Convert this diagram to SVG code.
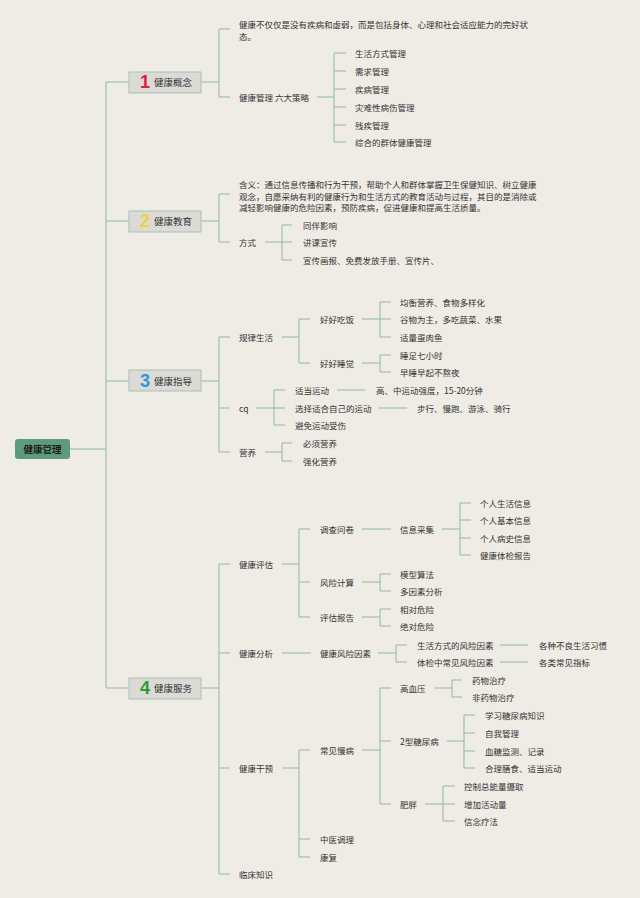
<svg xmlns="http://www.w3.org/2000/svg" width="640" height="898" viewBox="0 0 640 898">
<style>
.t{font-family:"Noto Sans CJK SC","Noto Sans",sans-serif;font-size:8.5px;fill:#333;dominant-baseline:central}
.h{font-family:"Noto Sans CJK SC","Noto Sans",sans-serif;font-size:9.5px;fill:#333;dominant-baseline:central}
.n{font-family:"Liberation Sans",sans-serif;font-size:18px;font-weight:bold;text-anchor:middle;dominant-baseline:central}
.box{fill:#DCDAD6;stroke:#A7C3B3;stroke-width:1}
.c{fill:none;stroke:#8DBBA2;stroke-width:1}
</style>
<rect width="640" height="898" fill="#EFEBE5"/>
<g id="connectors" class="c">
<path d="M70 449H106M106 82V688M106 82H129M106 221H129M106 381H129M106 688H129"/>
<path d="M201 82H219M219 29V97M219 29H230M219 97H230"/>
<path d="M317 97H334M334 53V142M334 53H346M334 71H346M334 89H346M334 107H346M334 125H346M334 142H346"/>
<path d="M201 221H219M219 194V242M219 194H230M219 242H230"/>
<path d="M265 242H282M282 225V260M282 225H292M282 242H292M282 260H292"/>
<path d="M201 381H219M219 337V452M219 337H230M219 408H230M219 452H230"/>
<path d="M282 337H299M299 319V363M299 319H310M299 363H310"/>
<path d="M362 319H380M380 302V337M380 302H391M380 319H391M380 337H391"/>
<path d="M362 363H380M380 355V372M380 355H391M380 372H391"/>
<path d="M256 408H274M274 390V425M274 390H285M274 408H285M274 425H285"/>
<path d="M337 390H365M378 408H407"/>
<path d="M265 452H282M282 443V461M282 443H292M282 461H292"/>
<path d="M201 688H219M219 564V874M219 564H230M219 653H230M219 768H230M219 874H230"/>
<path d="M282 564H299M299 529V617M299 529H310M299 582H310M299 617H310"/>
<path d="M362 529H391"/>
<path d="M442 529H460M460 503V555M460 503H471M460 520H471M460 538H471M460 555H471"/>
<path d="M362 582H380M380 574V591M380 574H391M380 591H391"/>
<path d="M362 617H380M380 609V626M380 609H391M380 626H391"/>
<path d="M282 653H311"/>
<path d="M378 653H396M396 645V662M396 645H407M396 662H407"/>
<path d="M500 645H528M500 662H528"/>
<path d="M282 768H299M299 750V857M299 750H310M299 839H310M299 857H310"/>
<path d="M362 750H380M380 688V804M380 688H391M380 741H391M380 804H391"/>
<path d="M434 688H452M452 680V697M452 680H462M452 697H462"/>
<path d="M447 741H464M464 715V768M464 715H475M464 733H475M464 751H475M464 768H475"/>
<path d="M425 804H443M443 786V821M443 786H455M443 804H455M443 821H455"/>
</g>
<g id="root">
<rect x="15" y="439" width="55" height="20" rx="3" fill="#5C9C7C"/>
<text x="42.5" y="449" class="h" style="font-weight:bold;fill:#1a1a1a;text-anchor:middle">健康管理</text>
</g>
<g id="n1"><rect x="129" y="72" width="72" height="21" class="box"/><text x="145" y="82" class="n" fill="#E0203A">1</text><text x="154" y="82" class="h">健康概念</text></g>
<g id="n2"><rect x="129" y="211" width="72" height="21" class="box"/><text x="145" y="221" class="n" fill="#EED43A">2</text><text x="154" y="221" class="h">健康教育</text></g>
<g id="n3"><rect x="129" y="370" width="72" height="21" class="box"/><text x="145" y="381" class="n" fill="#2A9AD8">3</text><text x="154" y="381" class="h">健康指导</text></g>
<g id="n4"><rect x="129" y="678" width="72" height="21" class="box"/><text x="145" y="688" class="n" fill="#2E9A3A">4</text><text x="154" y="688" class="h">健康服务</text></g>

<g id="def"><text x="239" y="24" class="t">健康不仅仅是没有疾病和虚弱，而是包括身体、心理和社会适应能力的完好状</text><text x="239" y="36" class="t">态。</text></g>
<g id="six"><text x="239" y="97" class="t">健康管理 六大策略</text></g>
<g id="s1"><text x="355" y="53" class="t">生活方式管理</text></g>
<g id="s2"><text x="355" y="71" class="t">需求管理</text></g>
<g id="s3"><text x="355" y="89" class="t">疾病管理</text></g>
<g id="s4"><text x="355" y="107" class="t">灾难性病伤管理</text></g>
<g id="s5"><text x="355" y="125" class="t">残疾管理</text></g>
<g id="s6"><text x="355" y="142" class="t">综合的群体健康管理</text></g>

<g id="meaning"><text x="239" y="184" class="t">含义：通过信息传播和行为干预，帮助个人和群体掌握卫生保健知识、树立健康</text><text x="239" y="196" class="t">观念，自愿采纳有利的健康行为和生活方式的教育活动与过程，其目的是消除或</text><text x="239" y="207" class="t">减轻影响健康的危险因素，预防疾病，促进健康和提高生活质量。</text></g>
<g id="way"><text x="239" y="242" class="t">方式</text></g>
<g id="w1"><text x="303" y="225" class="t">同伴影响</text></g>
<g id="w2"><text x="303" y="242" class="t">讲课宣传</text></g>
<g id="w3"><text x="303" y="260" class="t">宣传画报、免费发放手册、宣传片、</text></g>

<g id="life"><text x="239" y="337" class="t">规律生活</text></g>
<g id="eat"><text x="320" y="319" class="t">好好吃饭</text></g>
<g id="e1"><text x="400" y="302" class="t">均衡营养、食物多样化</text></g>
<g id="e2"><text x="400" y="319" class="t">谷物为主，多吃蔬菜、水果</text></g>
<g id="e3"><text x="400" y="337" class="t">适量蛋肉鱼</text></g>
<g id="sleep"><text x="320" y="363" class="t">好好睡觉</text></g>
<g id="sl1"><text x="400" y="355" class="t">睡足七小时</text></g>
<g id="sl2"><text x="400" y="372" class="t">早睡早起不熬夜</text></g>
<g id="cq"><text x="239" y="408" class="t">cq</text></g>
<g id="ex1"><text x="295" y="390" class="t">适当运动</text></g>
<g id="ex1a"><text x="376" y="390" class="t">高、中运动强度，15-20分钟</text></g>
<g id="ex2"><text x="295" y="408" class="t">选择适合自己的运动</text></g>
<g id="ex2a"><text x="417" y="408" class="t">步行、慢跑、游泳、骑行</text></g>
<g id="ex3"><text x="295" y="425" class="t">避免运动受伤</text></g>
<g id="nut"><text x="239" y="452" class="t">营养</text></g>
<g id="nu1"><text x="303" y="443" class="t">必须营养</text></g>
<g id="nu2"><text x="303" y="461" class="t">强化营养</text></g>

<g id="assess"><text x="239" y="564" class="t">健康评估</text></g>
<g id="survey"><text x="320" y="529" class="t">调查问卷</text></g>
<g id="collect"><text x="400" y="529" class="t">信息采集</text></g>
<g id="c1"><text x="480" y="503" class="t">个人生活信息</text></g>
<g id="c2"><text x="480" y="520" class="t">个人基本信息</text></g>
<g id="c3"><text x="480" y="538" class="t">个人病史信息</text></g>
<g id="c4"><text x="480" y="555" class="t">健康体检报告</text></g>
<g id="risk"><text x="320" y="582" class="t">风险计算</text></g>
<g id="r1"><text x="400" y="574" class="t">模型算法</text></g>
<g id="r2"><text x="400" y="591" class="t">多因素分析</text></g>
<g id="report"><text x="320" y="617" class="t">评估报告</text></g>
<g id="rp1"><text x="400" y="609" class="t">相对危险</text></g>
<g id="rp2"><text x="400" y="626" class="t">绝对危险</text></g>
<g id="analysis"><text x="239" y="653" class="t">健康分析</text></g>
<g id="factors"><text x="320" y="653" class="t">健康风险因素</text></g>
<g id="f1"><text x="417" y="645" class="t">生活方式的风险因素</text></g>
<g id="f1a"><text x="539" y="645" class="t">各种不良生活习惯</text></g>
<g id="f2"><text x="417" y="662" class="t">体检中常见风险因素</text></g>
<g id="f2a"><text x="539" y="662" class="t">各类常见指标</text></g>
<g id="intervene"><text x="239" y="768" class="t">健康干预</text></g>
<g id="chronic"><text x="320" y="750" class="t">常见慢病</text></g>
<g id="hbp"><text x="400" y="688" class="t">高血压</text></g>
<g id="h1"><text x="472" y="680" class="t">药物治疗</text></g>
<g id="h2"><text x="472" y="697" class="t">非药物治疗</text></g>
<g id="dm"><text x="400" y="741" class="t">2型糖尿病</text></g>
<g id="d1"><text x="485" y="715" class="t">学习糖尿病知识</text></g>
<g id="d2"><text x="485" y="733" class="t">自我管理</text></g>
<g id="d3"><text x="485" y="751" class="t">血糖监测、记录</text></g>
<g id="d4"><text x="485" y="768" class="t">合理膳食、适当运动</text></g>
<g id="obese"><text x="400" y="804" class="t">肥胖</text></g>
<g id="o1"><text x="464" y="786" class="t">控制总能量摄取</text></g>
<g id="o2"><text x="464" y="804" class="t">增加活动量</text></g>
<g id="o3"><text x="464" y="821" class="t">信念疗法</text></g>
<g id="tcm"><text x="320" y="839" class="t">中医调理</text></g>
<g id="rehab"><text x="320" y="857" class="t">康复</text></g>
<g id="clinic"><text x="239" y="874" class="t">临床知识</text></g>
</svg>
